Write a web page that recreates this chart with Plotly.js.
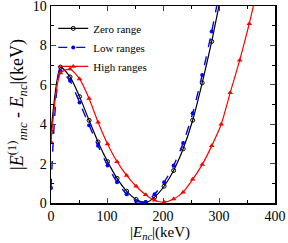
<!DOCTYPE html>
<html><head><meta charset="utf-8">
<script src="https://cdn.plot.ly/plotly-3.0.1.min.js"></script>
<style>html,body{margin:0;padding:0;background:#fff;}</style>
</head><body><div id="chart" style="width:288px;height:243px;"></div>
<script>
const xZero = [0, 17, 34, 51, 68, 84, 101, 118, 135, 152, 169, 185, 202, 219, 236, 253, 270, 287, 304];
const yZero = [3.6, 6.9, 6.4, 5.4, 4.2, 3.1, 2.1, 1.25, 0.6, 0.18, 0.02, 0.3, 0.85, 1.65, 2.75, 4.2, 6.1, 8.2, 10.6];
const xLow = [0, 17, 34, 51, 68, 84, 101, 118, 135, 152, 169, 185, 202, 219, 236, 253, 270, 287, 304];
const yLow = [0.76, 6.7, 6.2, 5.1, 3.95, 2.9, 1.9, 1.05, 0.45, 0.1, 0.05, 0.45, 1.05, 1.9, 3.05, 4.55, 6.5, 8.7, 11.2];
const xHigh = [0, 17, 34, 51, 68, 84, 101, 118, 135, 152, 169, 185, 202, 219, 236, 253, 270, 287, 304, 320, 337, 354, 371];
const yHigh = [3.1, 6.6, 6.8, 6.3, 5.3, 4.1, 3.0, 2.1, 1.4, 0.85, 0.42, 0.14, 0.04, 0.2, 0.55, 1.2, 1.95, 2.9, 4.0, 5.6, 7.25, 9.1, 11.2];
const seriesNames = ["Zero range", "Low ranges", "High ranges"];
const xTitle = '|<i>E</i><sub><i>nc</i></sub>|(keV)';
const yTitle = '|<i>E</i><sup>(1)</sup><sub><i>nnc</i></sub> - <i>E</i><sub><i>nc</i></sub>|(keV)';

const traces = [
  {x: xZero, y: yZero, name: seriesNames[0], mode: 'lines+markers', line: {color: '#000000', width: 1.2, shape: 'spline', smoothing: 0.6},
   marker: {symbol: 'circle-open', size: 4, color: '#000000', line: {width: 1}}},
  {x: xLow, y: yLow, name: seriesNames[1], mode: 'lines+markers', line: {color: '#0000ff', width: 1.4, dash: 'dash', shape: 'spline', smoothing: 0.6},
   marker: {symbol: 'circle', size: 4, color: '#0000ff'}},
  {x: xHigh, y: yHigh, name: seriesNames[2], mode: 'lines+markers', line: {color: '#ff0000', width: 1.2, shape: 'spline', smoothing: 0.6},
   marker: {symbol: 'triangle-up', size: 5, color: '#ff0000'}}
];

const axisFont = {family: 'Liberation Serif, serif', size: 14, color: '#000'};
const layout = {
  width: 288, height: 243,
  margin: {l: 51, r: 13, t: 6, b: 40},
  paper_bgcolor: '#fff', plot_bgcolor: '#fff',
  showlegend: true,
  legend: {x: 0.01, y: 0.96, xanchor: 'left', yanchor: 'top', bgcolor: 'rgba(0,0,0,0)',
           font: {family: 'Liberation Serif, serif', size: 11, color: '#000'}, tracegroupgap: 0, itemwidth: 30},
  xaxis: {range: [0, 400], tickvals: [0, 100, 200, 300, 400], ticks: 'inside', ticklen: 5, tickwidth: 1,
          showline: true, linecolor: '#000', linewidth: 1.5, mirror: 'allticks', showgrid: false, zeroline: false,
          tickfont: axisFont, ticklabeloverflow: 'allow',
          minor: {dtick: 50, tick0: 0, ticks: 'inside', ticklen: 3, tickcolor: '#000', showgrid: false}},
  yaxis: {range: [0, 10], tickvals: [0, 2, 4, 6, 8, 10], ticks: 'inside', ticklen: 5, tickwidth: 1,
          showline: true, linecolor: '#000', linewidth: 1.5, mirror: 'allticks', showgrid: false, zeroline: false,
          tickfont: axisFont, ticklabeloverflow: 'allow',
          minor: {dtick: 1, tick0: 0, ticks: 'inside', ticklen: 3, tickcolor: '#000', showgrid: false}},
  annotations: [
    {text: xTitle, xref: 'paper', yref: 'paper', x: 0.487, y: -0.205, xanchor: 'center', yanchor: 'bottom', yshift: -1, showarrow: false,
     font: {family: 'Liberation Serif, serif', size: 15, color: '#000'}},
    {text: yTitle, xref: 'paper', yref: 'paper', x: -0.15, y: 0.5, xanchor: 'center', yanchor: 'middle', showarrow: false, textangle: -90,
     font: {family: 'Liberation Serif, serif', size: 18, color: '#000'}}
  ]
};
Plotly.newPlot('chart', traces, layout, {displayModeBar: false, staticPlot: true});
</script></body></html>
